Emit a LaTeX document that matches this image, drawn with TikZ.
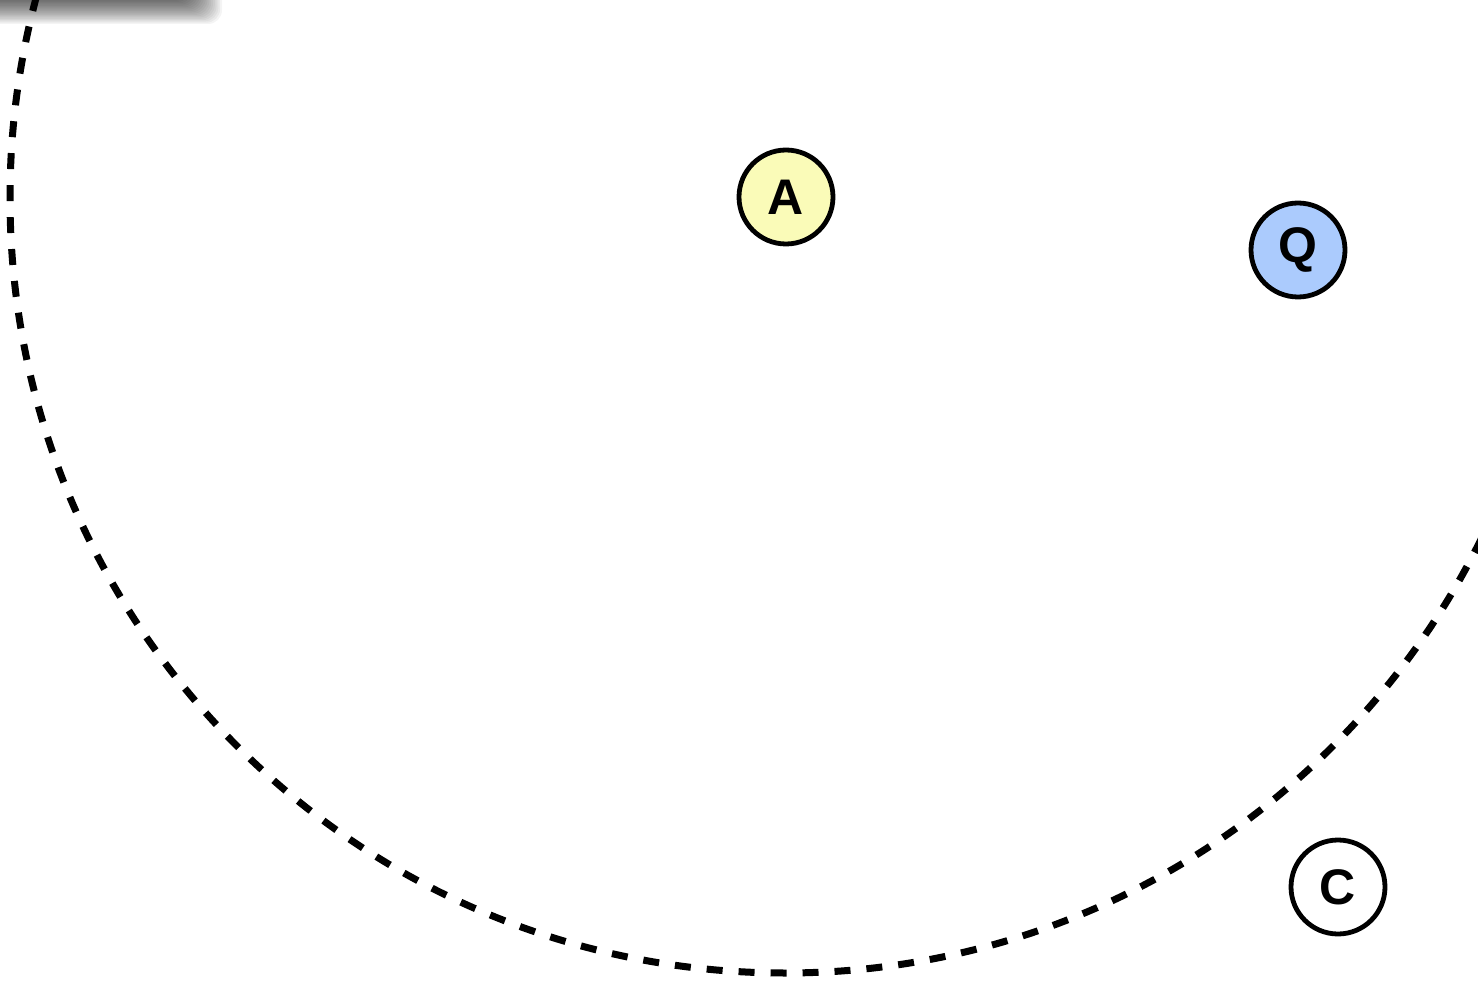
\documentclass[tikz,border=0pt]{standalone}
\usepackage{fontspec}
\setmainfont{Liberation Sans}
\definecolor{ayellow}{HTML}{FAFBB8}
\definecolor{qblue}{HTML}{ABCBFD}
\tikzset{
  vertex/.style={circle, draw=black, line width=4.8pt, minimum size=94pt, inner sep=0pt, font=\fontsize{50}{50}\selectfont\bfseries},
  boundary/.style={draw=black, line width=7pt, dash pattern=on 16pt off 16pt},
}
\begin{document}
\begin{tikzpicture}[x=1pt,y=-1pt]
\useasboundingbox (0,0) rectangle (1478,981);
\begin{scope}
\clip (0,0) rectangle (1478,981);
% blurred shadow at top-left
\foreach \i in {0,...,24} {
  \fill[black, opacity=0.045, rounded corners=14pt] (-60,-60) rectangle ({222-1.8*\i},{24-1.3*\i});
}
\coordinate (ctr) at (785,198);
\draw[boundary] (ctr) circle (775);
\end{scope}
\node[vertex, fill=ayellow] (A) at (786,197) {A};
\node[vertex, fill=qblue] (Q) at (1298,250) {Q};
\node[vertex, fill=white] (C) at (1338,887) {C};
\end{tikzpicture}
\end{document}
